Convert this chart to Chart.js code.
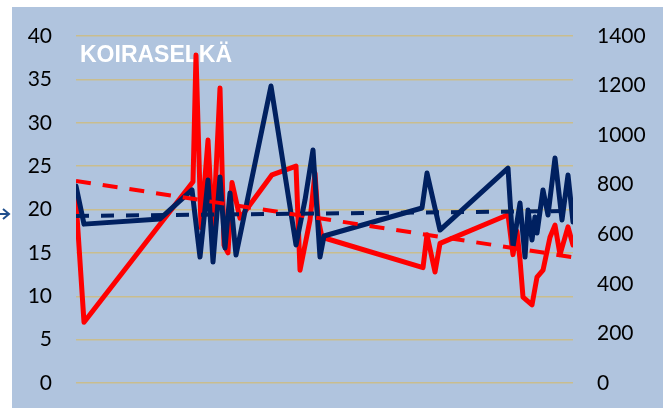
<!DOCTYPE html>
<html>
<head>
<meta charset="utf-8">
<script src="https://cdn.jsdelivr.net/npm/chart.js@4.4.0/dist/chart.umd.min.js"></script>
<style>
html, body { margin: 0; padding: 0; background: #fff; }
#wrap { width: 663px; height: 408px; position: relative; }
</style>
</head>
<body>
<div id="wrap"><canvas id="myChart"></canvas></div>
<script>
// päivät jakson alusta, lämpötila (vasen akseli) ja toinen mittaus (oikea akseli)
var redDays   = [0, 8, 117, 120, 125, 132, 137, 144, 148, 152, 156, 164, 196, 220, 224, 234, 239, 242, 246, 347, 351, 359, 364, 432, 437, 441, 444, 447, 456, 461, 467, 474, 479, 484, 492, 497];
var redValues = [21, 7.0, 23.2, 37.8, 17.9, 28.0, 17.1, 34.0, 15.9, 15.0, 23.1, 19.0, 24.0, 25.0, 13.0, 18.8, 24.2, 19.0, 16.8, 13.3, 17.1, 12.8, 16.1, 19.4, 14.8, 17.5, 14.2, 9.9, 9.0, 12.2, 13.0, 16.8, 18.2, 14.8, 18.0, 15.9];

var navyDays   = [0, 8, 84, 116, 124, 132, 137, 144, 149, 154, 160, 195, 220, 229, 237, 244, 248, 346, 351, 364, 432, 437, 444, 449, 452, 456, 459, 461, 467, 472, 479, 486, 492, 497];
var navyValues = [795, 641, 662, 779, 508, 819, 488, 831, 545, 767, 516, 1198, 557, 738, 940, 508, 593, 706, 847, 617, 867, 549, 726, 508, 698, 577, 670, 605, 779, 678, 908, 658, 839, 650];

// lineaariset trendit, alku- ja loppupiste
var trendDays = [0, 497];
var redTrend  = [23.3, 14.5];
var navyTrend = [674, 694];

var leftTicks  = { min: 0, max: 40, step: 5 };
var rightTicks = { min: 0, max: 1400, step: 200 };
var otsikko = 'KOIRASELKÄ';

function pts(xs, ys) {
  var out = [];
  for (var i = 0; i < xs.length; i++) out.push({ x: xs[i], y: ys[i] });
  return out;
}

var RED = '#ff0000';
var NAVY = '#002060';
var tickFont = { family: 'Lato', size: 21 };

var tausta = {
  id: 'tausta',
  beforeDraw: function (chart) {
    var ctx = chart.ctx;
    ctx.save();
    ctx.fillStyle = '#ffffff';
    ctx.fillRect(0, 0, chart.width, chart.height);
    ctx.fillStyle = '#b0c4de';
    ctx.fillRect(12, 7, chart.width - 12, chart.height - 7);
    // nuolen kärki vasemmassa reunassa
    ctx.strokeStyle = '#1f4e8c';
    ctx.lineWidth = 2;
    ctx.beginPath();
    ctx.moveTo(0, 214); ctx.lineTo(9, 214);
    ctx.moveTo(3, 209); ctx.lineTo(9, 214); ctx.lineTo(3, 219);
    ctx.stroke();
    ctx.restore();
  },
  beforeDatasetsDraw: function (chart) {
    var ctx = chart.ctx;
    ctx.save();
    ctx.fillStyle = '#ffffff';
    ctx.font = 'bold 23px "Liberation Sans"';
    ctx.textBaseline = 'alphabetic';
    ctx.fillText(otsikko, 80, 62);
    ctx.restore();
  }
};

var lineBase = {
  pointRadius: 0,
  tension: 0,
  fill: false,
  borderJoinStyle: 'round',
  borderCapStyle: 'round'
};

var data = {
  datasets: [
    Object.assign({}, lineBase, { label: 'trendi 2', data: pts(trendDays, navyTrend), yAxisID: 'y1', borderColor: NAVY, borderWidth: 4, borderDash: [13, 12], borderCapStyle: 'butt', order: 0 }),
    Object.assign({}, lineBase, { label: 'trendi 1', data: pts(trendDays, redTrend), yAxisID: 'y', borderColor: RED, borderWidth: 4, borderDash: [15, 12], borderCapStyle: 'butt', order: 1 }),
    Object.assign({}, lineBase, { label: 'sarja 2', data: pts(navyDays, navyValues), yAxisID: 'y1', borderColor: NAVY, borderWidth: 5, order: 2 }),
    Object.assign({}, lineBase, { label: 'sarja 1', data: pts(redDays, redValues), yAxisID: 'y', borderColor: RED, borderWidth: 5, order: 3 })
  ]
};

// akselin leveys kiinteäksi, pysty-padding pois ettei se syö piirtoaluetta
function fitAxis(w) {
  return function (s) {
    s.width = w;
    s.paddingTop = 8;
    s.paddingBottom = 8;
  };
}

var option = {
  responsive: true,
  maintainAspectRatio: false,
  animation: false,
  layout: { padding: { left: 0, right: 0, top: 36, bottom: 25 } },
  plugins: { legend: { display: false }, tooltip: { enabled: false } },
  scales: {
    x: { type: 'linear', min: 0, max: 497, display: false },
    y: {
      position: 'left', min: leftTicks.min, max: leftTicks.max,
      ticks: { stepSize: leftTicks.step, padding: 24, font: tickFont, color: '#000' },
      grid: { color: '#c9bd8e', lineWidth: 1.5, drawTicks: false },
      border: { display: false },
      afterFit: fitAxis(76)
    },
    y1: {
      position: 'right', min: rightTicks.min, max: rightTicks.max,
      ticks: { stepSize: rightTicks.step, padding: 24, font: tickFont, color: '#000', callback: function (v) { return String(v); } },
      grid: { display: false, drawTicks: false },
      border: { display: false },
      afterFit: fitAxis(90)
    }
  }
};

var canvas = document.getElementById('myChart');
var myLineChart = new Chart(canvas, { type: 'line', data: data, options: option, plugins: [tausta] });
</script>
</body>
</html>
